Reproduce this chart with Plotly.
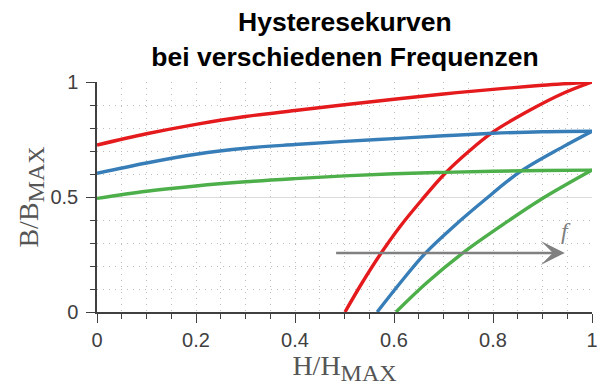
import plotly.graph_objects as go

# Normalised hysteresis curves at three excitation frequencies (low -> high)
colors = ["#e41a1c", "#377eb8", "#4daf4a"]

# Upper (descending) branches, sampled on a common H grid
h_upper = [0.0, 0.1, 0.2, 0.3, 0.4, 0.5, 0.6, 0.7, 0.8, 0.9, 1.0]
b_upper_red = [0.726, 0.775, 0.816, 0.850, 0.876, 0.901, 0.925, 0.948, 0.968, 0.986, 1.0]
b_upper_blue = [0.603, 0.648, 0.686, 0.712, 0.728, 0.742, 0.754, 0.766, 0.777, 0.784, 0.786]
b_upper_green = [0.494, 0.525, 0.548, 0.566, 0.580, 0.592, 0.601, 0.607, 0.612, 0.615, 0.617]

# Lower (ascending) branches, from the coercive point up to the tip
h_lower_red = [0.501, 0.535, 0.572, 0.612, 0.656, 0.702, 0.752, 0.801, 0.875, 0.942, 1.0]
b_lower_red = [0.0, 0.125, 0.250, 0.371, 0.487, 0.600, 0.700, 0.784, 0.878, 0.951, 1.0]
h_lower_blue = [0.566, 0.612, 0.663, 0.720, 0.783, 0.855, 0.942, 1.0]
b_lower_blue = [0.0, 0.125, 0.255, 0.371, 0.487, 0.610, 0.719, 0.786]
h_lower_green = [0.604, 0.665, 0.738, 0.814, 0.895, 1.0]
b_lower_green = [0.0, 0.125, 0.255, 0.371, 0.487, 0.617]

# Frequency arrow and its label
arrow_h = [0.48, 0.945]
arrow_b = 0.257
f_label_pos = (0.947, 0.352)

x_ticks = [0, 0.2, 0.4, 0.6, 0.8, 1.0]
x_ticktext = ["0", "0.2", "0.4", "0.6", "0.8", "1"]
y_ticks = [0, 0.5, 1.0]
y_ticktext = ["0", "0.5", "1"]

fig = go.Figure()

uppers = [b_upper_red, b_upper_blue, b_upper_green]
lowers = [(h_lower_red, b_lower_red), (h_lower_blue, b_lower_blue),
          (h_lower_green, b_lower_green)]

for col, bu, (hl, bl) in zip(colors, uppers, lowers):
    for xs, ys in ((h_upper, bu), (hl, bl)):
        fig.add_trace(go.Scatter(x=xs, y=ys, mode="lines",
                                 line=dict(color=col, width=3.4, shape="spline", smoothing=1.0),
                                 showlegend=False, hoverinfo="skip"))

fig.add_annotation(x=arrow_h[1], y=arrow_b, ax=arrow_h[0], ay=arrow_b,
                   xref="x", yref="y", axref="x", ayref="y",
                   showarrow=True, arrowhead=3, arrowsize=1.6, arrowwidth=2.5,
                   arrowcolor="#808080", text="")
fig.add_annotation(x=f_label_pos[0], y=f_label_pos[1], xref="x", yref="y",
                   text="<i>f</i>", showarrow=False,
                   font=dict(family="Liberation Serif", size=24, color="#808080"))

axis_col = "#404040"
tick_font = dict(family="Liberation Sans, Arial", size=20, color="#404040")
dot_grid = "#bdbdbd"
title_font = dict(family="Liberation Serif", size=28, color="#555555")

fig.update_xaxes(
    range=[0, 1], showline=True, linecolor=axis_col, linewidth=1.5,
    ticks="outside", ticklen=9, tickwidth=1.3, tickcolor=axis_col,
    tickvals=x_ticks, ticktext=x_ticktext, tickfont=tick_font,
    showgrid=True, gridcolor=dot_grid, griddash="1px,5px", gridwidth=1,
    zeroline=False, automargin=False,
    minor=dict(dtick=0.05, ticklen=5, tickwidth=1.3, tickcolor=axis_col,
               showgrid=True, gridcolor=dot_grid, griddash="1px,5px", gridwidth=1),
    title=dict(text="H/H<sub><span style='font-size:24px'>MAX</span></sub>",
               font=title_font, standoff=4),
)
fig.update_yaxes(
    range=[0, 1], showline=True, linecolor=axis_col, linewidth=1.5,
    ticks="outside", ticklen=9, tickwidth=1.3, tickcolor=axis_col,
    tickvals=y_ticks, ticktext=y_ticktext, tickfont=tick_font,
    showgrid=True, gridcolor="#dcdcdc", gridwidth=1.2,
    zeroline=False, ticklabelstandoff=4, automargin=False,
    minor=dict(dtick=0.1, ticklen=5, tickwidth=1.3, tickcolor=axis_col,
               showgrid=True, gridcolor=dot_grid, griddash="1px,5px", gridwidth=1),
    title=dict(text="B/B<sub><span style='font-size:24px'>MAX</span></sub>",
               font=title_font, standoff=4),
)

fig.update_layout(
    width=603, height=386, autosize=False,
    margin=dict(l=97, r=11, t=82, b=74),
    paper_bgcolor="white", plot_bgcolor="white",
    title=dict(text="<b>Hysteresekurven<br>bei verschiedenen Frequenzen</b>",
               font=dict(family="Liberation Sans, Arial", size=26.5, color="#000000"),
               x=0.572, xanchor="center", y=0.919, yanchor="middle"),
)

fig.write_html("out.html")
